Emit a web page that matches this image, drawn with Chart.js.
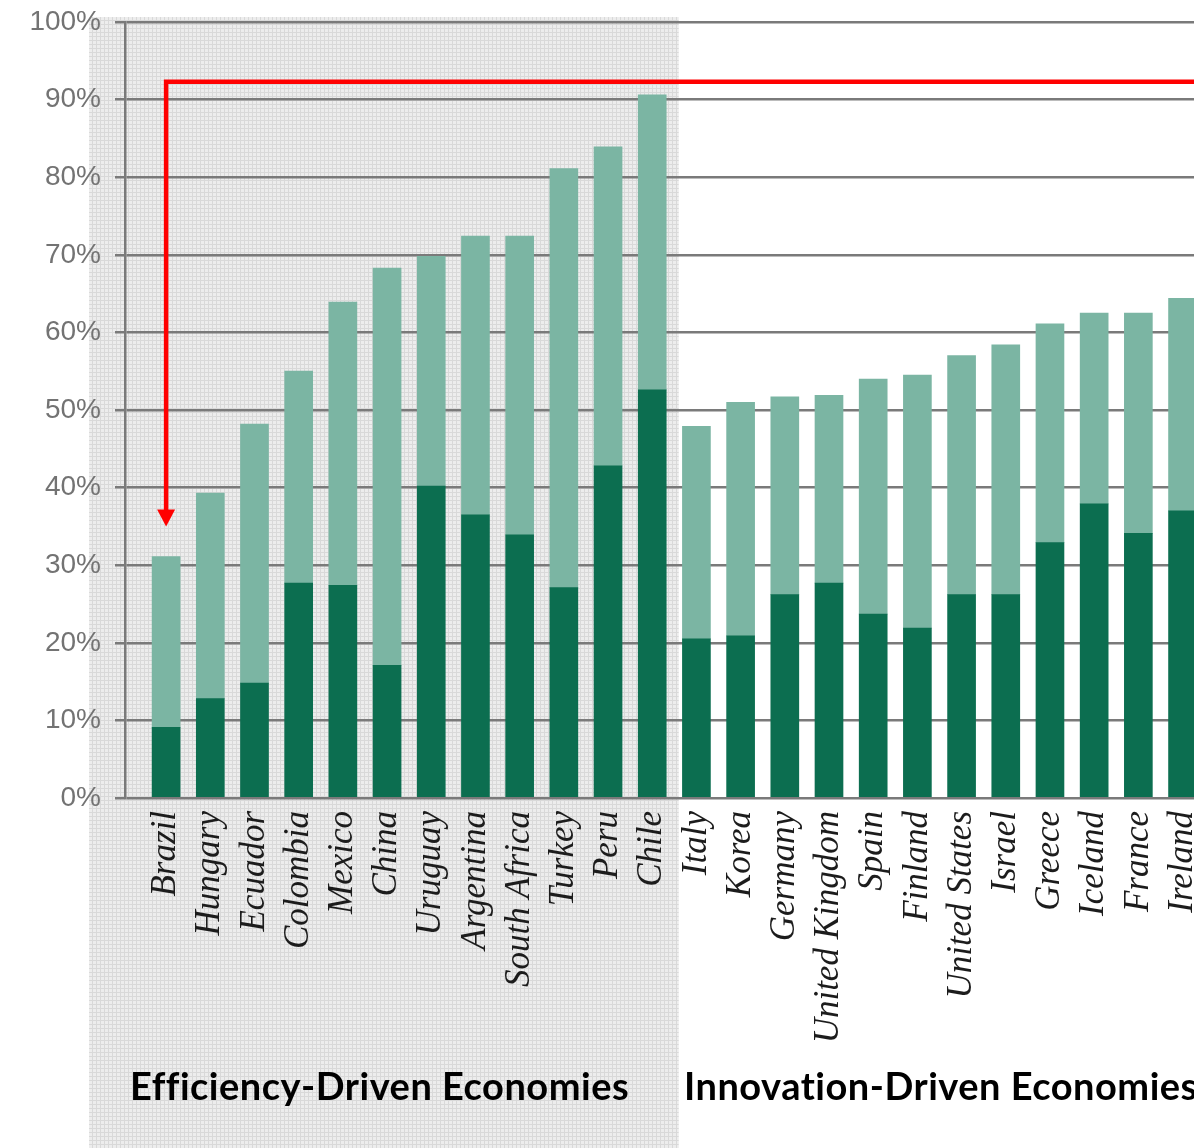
<!DOCTYPE html>
<html>
<head>
<meta charset="utf-8">
<title>Entrepreneurship by economy type</title>
<script src="https://cdn.jsdelivr.net/npm/chart.js@4.4.1/dist/chart.umd.min.js"></script>
<style>
  body { margin: 0; background: #fff; }
  #wrap { width: 1194px; height: 1148px; overflow: hidden; position: relative; }
  canvas { display: block; }
</style>
</head>
<body>
<div id="wrap"><canvas id="chart" width="1240" height="1148"></canvas></div>
<script>
// countries, first the efficiency-driven group, then innovation-driven
const countries = [
  'Brazil', 'Hungary', 'Ecuador', 'Colombia', 'Mexico', 'China',
  'Uruguay', 'Argentina', 'South Africa', 'Turkey', 'Peru', 'Chile',
  'Italy', 'Korea', 'Germany', 'United Kingdom', 'Spain', 'Finland',
  'United States', 'Israel', 'Greece', 'Iceland', 'France', 'Ireland'
];
const efficiencyCount = 12;

// lower (dark) segment, in %
const darkShare = [
  9.1, 12.8, 14.8, 27.7, 27.4, 17.1,
  40.2, 36.5, 33.9, 27.1, 42.8, 52.6,
  20.5, 20.9, 26.2, 27.7, 23.7, 21.9,
  26.2, 26.2, 32.9, 37.9, 34.1, 37.0
];
// upper (light) segment, in %
const lightShare = [
  22.0, 26.5, 33.4, 27.3, 36.5, 51.2,
  29.6, 35.9, 38.5, 54.0, 41.1, 38.0,
  27.4, 30.1, 25.5, 24.2, 30.3, 32.6,
  30.8, 32.2, 28.2, 24.6, 28.4, 27.4
];
const yTicks = [0, 10, 20, 30, 40, 50, 60, 70, 80, 90, 100];

const groupTitles = ['Efficiency-Driven Economies', 'Innovation-Driven Economies'];

const darkGreen = '#0c6e50';
const lightGreen = '#7bb5a3';
const gridGrey = '#7a7a7a';

// halftone-ish grey fill for the efficiency group
function makeShade(ctx) {
  const p = document.createElement('canvas');
  p.width = 4; p.height = 4;
  const c = p.getContext('2d');
  c.fillStyle = '#ededed';
  c.fillRect(0, 0, 4, 4);
  c.fillStyle = '#d9d9d9';
  c.fillRect(0, 0, 4, 1);
  c.fillRect(0, 0, 1, 4);
  return ctx.createPattern(p, 'repeat');
}

const groupShade = {
  id: 'groupShade',
  beforeDraw(chart) {
    const { ctx, chartArea, scales } = chart;
    const right = scales.x.getPixelForValue(efficiencyCount - 0.4);
    ctx.save();
    ctx.fillStyle = '#fff';
    ctx.fillRect(0, 0, chart.width, chart.height);
    ctx.fillStyle = makeShade(ctx);
    ctx.fillRect(chartArea.left - 36, chartArea.top - 5, right - (chartArea.left - 36), chart.height);
    ctx.restore();
  }
};

const callout = {
  id: 'callout',
  afterDraw(chart) {
    const { ctx, scales } = chart;
    const x = scales.x.getPixelForValue(0);
    const top = scales.y.getPixelForValue(92.3);
    const tip = scales.y.getPixelForValue(35);

    ctx.save();
    // red bracket arrow pointing down at the first bar
    ctx.strokeStyle = '#ff0000';
    ctx.fillStyle = '#ff0000';
    ctx.lineWidth = 4.5;
    ctx.lineJoin = 'miter';
    ctx.beginPath();
    ctx.moveTo(chart.width, top);
    ctx.lineTo(x, top);
    ctx.lineTo(x, tip - 14);
    ctx.stroke();
    ctx.beginPath();
    ctx.moveTo(x - 9, tip - 17);
    ctx.lineTo(x + 9, tip - 17);
    ctx.lineTo(x, tip);
    ctx.closePath();
    ctx.fill();

    // group captions
    ctx.fillStyle = '#000';
    ctx.font = 'bold 38px Lato';
    ctx.letterSpacing = '0.5px';
    ctx.textAlign = 'left';
    ctx.textBaseline = 'alphabetic';
    ctx.fillText(groupTitles[0], 130, 1100);
    ctx.fillText(groupTitles[1], 684, 1100);
    ctx.restore();
  }
};

const ctx = document.getElementById('chart');

new Chart(ctx, {
  type: 'bar',
  data: {
    datasets: [
      {
        label: 'dark',
        data: darkShare.map((v, i) => ({ x: i, y: v })),
        backgroundColor: darkGreen,
        barThickness: 28
      },
      {
        label: 'light',
        data: lightShare.map((v, i) => ({ x: i, y: v })),
        backgroundColor: lightGreen,
        barThickness: 28
      }
    ]
  },
  options: {
    responsive: false,
    devicePixelRatio: 1,
    animation: false,
    layout: { padding: { top: 22, right: 0, bottom: 0, left: 0 } },
    plugins: {
      legend: { display: false },
      tooltip: { enabled: false }
    },
    scales: {
      x: {
        type: 'linear',
        stacked: true,
        offset: false,
        min: -0.93,
        max: 24.3,
        afterBuildTicks(scale) {
          scale.ticks = countries.map((_, i) => ({ value: i }));
        },
        afterFit(scale) {
          scale.height = 350;
          scale.paddingLeft = 0;
          scale.paddingRight = 0;
        },
        grid: { display: false, offset: false },
        border: { display: false },
        ticks: {
          autoSkip: false,
          maxRotation: 90,
          minRotation: 90,
          padding: 5,
          color: '#1c1c1c',
          font: { family: '"Liberation Serif"', style: 'italic', size: 35 },
          callback: (v) => countries[v]
        }
      },
      y: {
        stacked: true,
        min: 0,
        max: 100,
        afterBuildTicks(scale) {
          scale.ticks = yTicks.map(v => ({ value: v }));
        },
        afterFit(scale) {
          scale.width = 125;
          scale.paddingTop = 0;
          scale.paddingBottom = 0;
        },
        grid: {
          color: gridGrey,
          lineWidth: 2.5,
          tickLength: 10,
          tickColor: gridGrey
        },
        border: { display: true, color: gridGrey, width: 2.5 },
        ticks: {
          padding: 14,
          color: '#737373',
          font: { family: '"Liberation Sans"', size: 28 },
          callback: (v) => v + '%'
        }
      }
    }
  },
  plugins: [groupShade, callout]
});
</script>
</body>
</html>
